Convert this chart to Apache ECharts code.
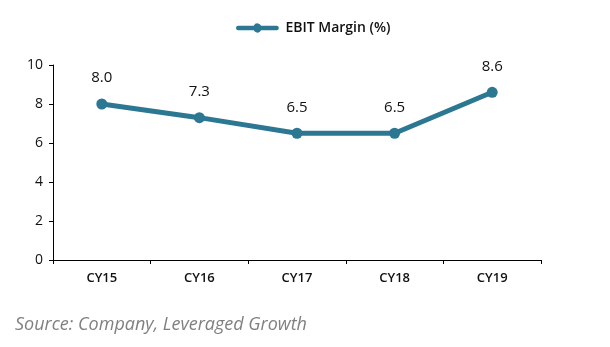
<!DOCTYPE html>
<html><head><meta charset="utf-8">
<script src="https://cdn.jsdelivr.net/npm/echarts@6/dist/echarts.min.js"></script>
<style>html,body{margin:0;padding:0;background:#fff}#c{width:610px;height:347px}</style>
</head><body><div id="c"></div>
<script>
const categories = ['CY15','CY16','CY17','CY18','CY19'];
const ebitMargin = [8.0, 7.3, 6.5, 6.5, 8.6];
const seriesName = 'EBIT Margin (%)';
const yTicks = [0, 2, 4, 6, 8, 10];

const chart = echarts.init(document.getElementById('c'));
const color = '#2c7893';
chart.setOption({
  animation: false,
  textStyle: { fontFamily: 'Open Sans, sans-serif' },
  legend: {
    top: 16, left: 231, itemWidth: 46, itemHeight: 9, itemGap: 4,
    data: [{ name: seriesName, icon: 'path://M2,2 L19,2 A4.5,4.5 0 0 1 27,2 L44,2 A2.5,2.5 0 0 1 44,7 L27,7 A4.5,4.5 0 0 1 19,7 L2,7 A2.5,2.5 0 0 1 2,2 Z' }],
    textStyle: { fontSize: 14, fontWeight: 600, color: '#111', fontFamily: 'Open Sans, sans-serif', padding: [0, 0, 0, 0] }
  },
  graphic: [{
    type: 'text', left: 15, top: 316,
    style: { text: 'Source: Company, Leveraged Growth', fill: '#808080', font: 'italic 18px "Open Sans", sans-serif' }
  }],
  grid: { left: 53, right: 69, top: 65, bottom: 87 },
  xAxis: {
    type: 'category', data: categories, boundaryGap: true,
    axisLine: { lineStyle: { color: '#000', width: 1 } },
    axisTick: { show: true, length: 4, lineStyle: { color: '#000' } },
    axisLabel: { color: '#111', fontSize: 13, fontWeight: 600, margin: 12 }
  },
  yAxis: {
    type: 'value', min: yTicks[0], max: yTicks[yTicks.length - 1], interval: 2,
    axisLine: { show: true, lineStyle: { color: '#000', width: 1 } },
    axisTick: { show: true, length: 4, lineStyle: { color: '#000' } },
    splitLine: { show: false },
    axisLabel: { color: '#111', fontSize: 14, fontWeight: 500, margin: 10 }
  },
  series: [{
    name: seriesName, type: 'line', data: ebitMargin,
    symbol: 'circle', symbolSize: 11,
    lineStyle: { color: color, width: 5 },
    itemStyle: { color: color },
    label: { show: true, position: 'top', distance: 13, color: '#111', fontSize: 15, fontWeight: 500,
      formatter: p => p.value.toFixed(1) }
  }]
});
</script></body></html>
